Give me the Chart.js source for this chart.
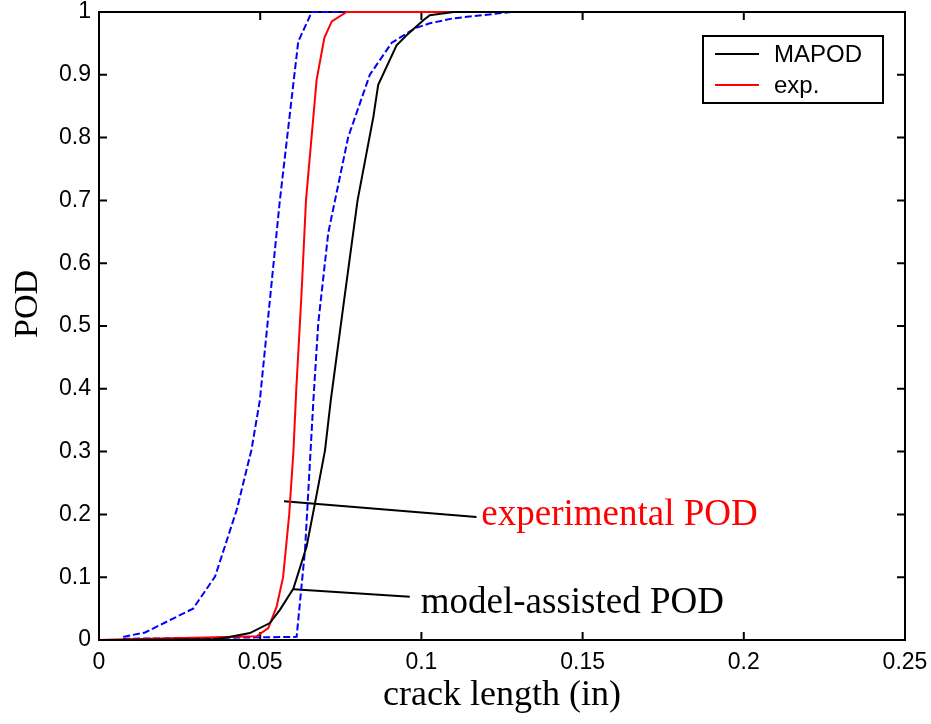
<!DOCTYPE html>
<html>
<head>
<meta charset="utf-8">
<title>POD vs crack length</title>
<script src="https://cdn.jsdelivr.net/npm/chart.js@4.4.1/dist/chart.umd.min.js"></script>
<style>
    html, body { margin: 0; padding: 0; background: #fff; }
    #wrap { width: 931px; height: 724px; position: relative; }
</style>
</head>
<body>
<div id="wrap"><canvas id="podChart"></canvas></div>
<script>
// Curves (crack length in inches, POD 0..1)
const mapodX = [0, 0.035, 0.0396, 0.0468, 0.053, 0.0561, 0.0603, 0.0644, 0.067, 0.0701, 0.0719, 0.076, 0.0802, 0.0851, 0.0866, 0.0923, 0.0954, 0.1006, 0.1026, 0.11, 0.175];
const mapodY = [0, 0.001, 0.004, 0.011, 0.027, 0.048, 0.082, 0.149, 0.218, 0.302, 0.382, 0.54, 0.70, 0.833, 0.884, 0.947, 0.963, 0.987, 0.995, 1.0, 1.0];

const expX = [0, 0.0489, 0.0525, 0.0551, 0.0571, 0.059, 0.0603, 0.0612, 0.0628, 0.0642, 0.0675, 0.0699, 0.0722, 0.0768, 0.1746];
const expY = [0, 0.006, 0.019, 0.053, 0.10, 0.20, 0.30, 0.40, 0.55, 0.70, 0.892, 0.959, 0.985, 1.0, 1.0];

// dashed confidence bounds
const lowerBoundX = [0.0075, 0.0143, 0.0292, 0.036, 0.0427, 0.0473, 0.0499, 0.053, 0.0561, 0.0597, 0.0618, 0.066, 0.128];
const lowerBoundY = [0.005, 0.012, 0.050, 0.101, 0.207, 0.303, 0.382, 0.541, 0.70, 0.86, 0.953, 1.0, 1.0];
const upperBoundX = [0.0075, 0.03, 0.0613, 0.0639, 0.0665, 0.068, 0.0711, 0.0732, 0.0773, 0.084, 0.0908, 0.098, 0.1026, 0.11, 0.128];
const upperBoundY = [0.002, 0.003, 0.005, 0.143, 0.382, 0.504, 0.648, 0.70, 0.801, 0.90, 0.951, 0.974, 0.982, 0.99, 1.0];

// leader lines for the two text labels
const expLeaderX = [0.0574, 0.1171];
const expLeaderY = [0.221, 0.196];
const modelLeaderX = [0.0603, 0.0964];
const modelLeaderY = [0.081, 0.069];

const xTicks = [0, 0.05, 0.1, 0.15, 0.2, 0.25];
const yTicks = [0, 0.1, 0.2, 0.3, 0.4, 0.5, 0.6, 0.7, 0.8, 0.9, 1];

const notes = [
    { text: 'experimental POD', x: 0.1186, y: 0.183, color: '#ff0000' },
    { text: 'model-assisted POD', x: 0.0998, y: 0.043, color: '#000000' }
];

function toPoints(xs, ys) {
    return xs.map((x, i) => ({ x: x, y: ys[i] }));
}

// box around the axes with MATLAB-style inward ticks on all four sides
const axesBox = {
    id: 'axesBox',
    beforeDatasetsDraw(chart) {
        const { ctx, chartArea: a, scales: { x, y } } = chart;
        ctx.save();
        ctx.strokeStyle = '#000';
        ctx.lineWidth = 2;
        ctx.strokeRect(a.left, a.top, a.right - a.left, a.bottom - a.top);
        ctx.beginPath();
        x.ticks.forEach(t => {
            const px = x.getPixelForValue(t.value);
            ctx.moveTo(px, a.bottom); ctx.lineTo(px, a.bottom - 8);
            ctx.moveTo(px, a.top); ctx.lineTo(px, a.top + 8);
        });
        y.ticks.forEach(t => {
            const py = y.getPixelForValue(t.value);
            ctx.moveTo(a.left, py); ctx.lineTo(a.left + 8, py);
            ctx.moveTo(a.right, py); ctx.lineTo(a.right - 8, py);
        });
        ctx.stroke();
        ctx.restore();
    }
};

// legend box in the upper right, labels, and the y axis title
const extras = {
    id: 'extras',
    afterDatasetsDraw(chart) {
        const { ctx, scales: { x, y } } = chart;
        ctx.save();

        // legend (first two datasets only)
        ctx.fillStyle = '#fff';
        ctx.fillRect(703, 36, 180, 67);
        ctx.strokeStyle = '#000';
        ctx.lineWidth = 2;
        ctx.strokeRect(703, 36, 180, 67);
        ctx.font = '24px "Liberation Sans", Arial, sans-serif';
        ctx.textBaseline = 'middle';
        ctx.textAlign = 'left';
        [0, 1].forEach((idx, row) => {
            const ds = chart.data.datasets[idx];
            const ly = 54 + row * 31;
            ctx.strokeStyle = ds.borderColor;
            ctx.lineWidth = 2;
            ctx.beginPath();
            ctx.moveTo(715, ly);
            ctx.lineTo(759, ly);
            ctx.stroke();
            ctx.fillStyle = '#000';
            ctx.fillText(ds.label, 774, ly + 1);
        });

        // text labels for the leader lines
        ctx.font = '37px "Liberation Serif", "Times New Roman", serif';
        ctx.textBaseline = 'alphabetic';
        notes.forEach(n => {
            ctx.fillStyle = n.color;
            ctx.fillText(n.text, x.getPixelForValue(n.x), y.getPixelForValue(n.y));
        });

        // y axis title
        ctx.translate(28, 304);
        ctx.rotate(-Math.PI / 2);
        ctx.textAlign = 'center';
        ctx.textBaseline = 'middle';
        ctx.fillStyle = '#000';
        ctx.font = '34px "Liberation Serif", "Times New Roman", serif';
        ctx.fillText('POD', 0, 0);
        ctx.restore();
    }
};

const tickFont = { family: '"Liberation Sans", Arial, sans-serif', size: 23, lineHeight: 1 };

function lineSet(label, xs, ys, color, dash) {
    return {
        label: label,
        data: toPoints(xs, ys),
        borderColor: color,
        backgroundColor: color,
        borderWidth: 2,
        borderDash: dash || [],
        pointRadius: 0,
        tension: 0,
        fill: false,
        clip: 6
    };
}

new Chart(document.getElementById('podChart'), {
    type: 'line',
    data: {
        datasets: [
            lineSet('MAPOD', mapodX, mapodY, '#000000'),
            lineSet('exp.', expX, expY, '#ff0000'),
            lineSet('lower bound', lowerBoundX, lowerBoundY, '#0000ff', [7, 3]),
            lineSet('upper bound', upperBoundX, upperBoundY, '#0000ff', [7, 3]),
            lineSet('', expLeaderX, expLeaderY, '#000000'),
            lineSet('', modelLeaderX, modelLeaderY, '#000000')
        ]
    },
    options: {
        responsive: true,
        maintainAspectRatio: false,
        devicePixelRatio: 1,
        animation: false,
        layout: {
            padding: { top: 12, right: 26, left: 0, bottom: 0 }
        },
        plugins: {
            legend: { display: false },
            tooltip: { enabled: false }
        },
        scales: {
            x: {
                type: 'linear',
                min: 0,
                max: 0.25,
                afterBuildTicks: axis => { axis.ticks = xTicks.map(v => ({ value: v })); },
                afterFit: scale => {
                    scale.height = 84;
                    scale.paddingLeft = 0;
                    scale.paddingRight = 0;
                },
                grid: { display: false, drawTicks: false },
                border: { display: false },
                ticks: {
                    color: '#000',
                    font: tickFont,
                    padding: 11,
                    maxRotation: 0,
                    callback: v => String(Number(v.toFixed(2)))
                },
                title: {
                    display: true,
                    text: 'crack length (in)',
                    color: '#000',
                    font: { family: '"Liberation Serif", "Times New Roman", serif', size: 36 },
                    padding: { top: 0, bottom: 7 }
                }
            },
            y: {
                min: 0,
                max: 1,
                afterBuildTicks: axis => { axis.ticks = yTicks.map(v => ({ value: v })); },
                afterFit: scale => {
                    scale.width = 99;
                    scale.paddingTop = 0;
                    scale.paddingBottom = 0;
                },
                grid: { display: false, drawTicks: false },
                border: { display: false },
                ticks: {
                    color: '#000',
                    font: tickFont,
                    padding: 8,
                    callback: v => String(Number(v.toFixed(2)))
                }
            }
        }
    },
    plugins: [axesBox, extras]
});
</script>
</body>
</html>
